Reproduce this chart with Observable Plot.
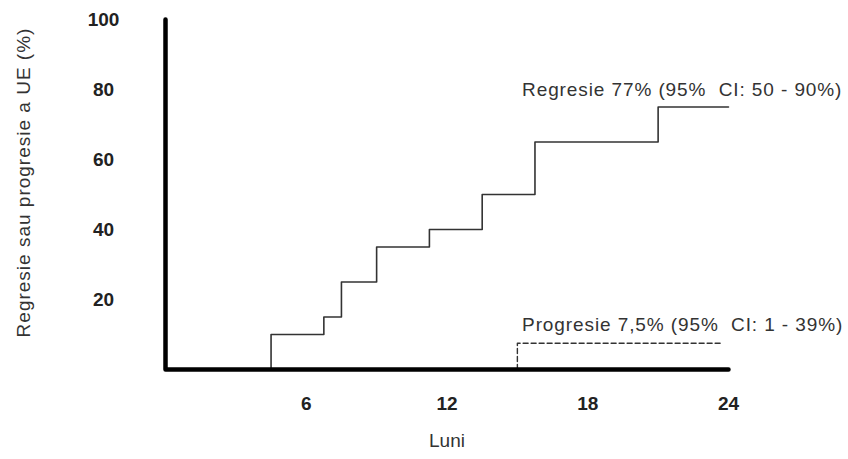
<!DOCTYPE html>
<html>
<head>
<meta charset="utf-8">
<script src="https://cdn.jsdelivr.net/npm/d3@7"></script>
<script src="https://cdn.jsdelivr.net/npm/@observablehq/plot@0.6"></script>
<style>
  html, body { margin: 0; padding: 0; background: #fff; }
  svg { font-family: "Liberation Sans", Arial, sans-serif; }
  g[aria-description="annotation"] text { letter-spacing: 0.9px; }
  g[aria-description="ytitle"] text { letter-spacing: 1px; }
</style>
</head>
<body>
<div id="chart"></div>
<script>
// Data
const xDomain = [0, 24];
const yDomain = [0, 100];
const xTicks = [6, 12, 18, 24];
const yTicks = [20, 40, 60, 80, 100];

// Regression (cumulative %), step events
const regresieMonths = [4.5, 6.75, 7.5, 9, 11.25, 13.5, 15.75, 21];
const regresieValues = [10, 15, 25, 35, 40, 50, 65, 75];
const regresieEnd = 24;

// Progression (cumulative %)
const progresieMonths = [15];
const progresieValues = [7.5];
const progresieEnd = 23.75;

const labelRegresie = "Regresie 77% (95%  CI: 50 - 90%)";
const labelProgresie = "Progresie 7,5% (95%  CI: 1 - 39%)";
const labelPositions = [
  {text: labelRegresie, x: 15.2, y: 80},
  {text: labelProgresie, x: 15.2, y: 12.7}
];
const yTitle = "Regresie sau progresie a UE (%)";
const xTitle = "Luni";

function stepData(months, values, end) {
  const pts = [{x: months[0], y: 0}];
  months.forEach((m, i) => pts.push({x: m, y: values[i]}));
  pts.push({x: end, y: values[values.length - 1]});
  return pts;
}
const regresie = stepData(regresieMonths, regresieValues, regresieEnd);
const progresie = stepData(progresieMonths, progresieValues, progresieEnd);
const axisPath = [
  {x: xDomain[0], y: yDomain[1]},
  {x: xDomain[0], y: yDomain[0]},
  {x: xDomain[1], y: yDomain[0]}
];

const chart = Plot.plot({
  width: 848,
  height: 459,
  marginLeft: 165,
  marginRight: 120,
  marginTop: 19,
  marginBottom: 90,
  x: {domain: xDomain, axis: null},
  y: {domain: yDomain, axis: null},
  marks: [
    Plot.line(regresie, {x: "x", y: "y", curve: "step-after", stroke: "#333", strokeWidth: 1.6}),
    Plot.line(progresie, {x: "x", y: "y", curve: "step-after", stroke: "#333", strokeWidth: 1.4, strokeDasharray: "5,3"}),
    Plot.line(axisPath, {x: "x", y: "y", stroke: "#000", strokeWidth: 4.5, strokeLinejoin: "round", strokeLinecap: "round"}),
    Plot.text(yTicks, {x: xDomain[0], y: d => d, dx: -62, textAnchor: "middle", fontWeight: "bold", fontSize: 19, fill: "#222"}),
    Plot.text(xTicks, {x: d => d, y: yDomain[0], dy: 34, textAnchor: "middle", fontWeight: "bold", fontSize: 19, fill: "#222"}),
    Plot.text(labelPositions, {x: "x", y: "y", text: "text", textAnchor: "start", fontSize: 19, fill: "#333", ariaDescription: "annotation"}),
    Plot.text([xTitle], {frameAnchor: "bottom", dy: 77, fontSize: 19, fill: "#333"}),
    Plot.text([yTitle], {frameAnchor: "left", dx: -142, dy: -12, rotate: -90, textAnchor: "middle", fontSize: 19, fill: "#333", ariaDescription: "ytitle"})
  ]
});
document.getElementById("chart").appendChild(chart);
</script>
</body>
</html>
